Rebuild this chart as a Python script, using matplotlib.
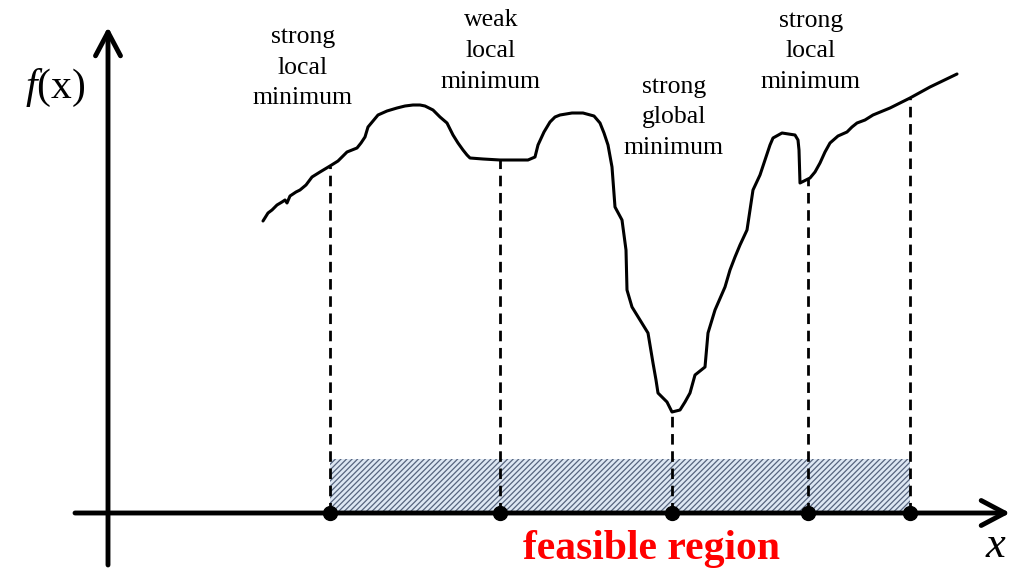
import numpy as np
import matplotlib
matplotlib.use("Agg")
import matplotlib.pyplot as plt
from matplotlib.patches import Rectangle

plt.rcParams['font.family'] = ['Liberation Serif', 'DejaVu Serif']
plt.rcParams['mathtext.fontset'] = 'custom'
plt.rcParams['mathtext.rm'] = 'Liberation Serif'
plt.rcParams['mathtext.it'] = 'Liberation Serif:italic'
plt.rcParams['hatch.linewidth'] = 0.9

# ---- data (x position, f(x) height above the x axis) ----
curve_x = [263, 268, 272, 277, 282, 285, 287, 290, 296, 300, 306, 312, 320, 330, 338, 343, 347,
           352, 357, 361, 365, 368, 373, 378, 387, 397, 405, 413, 420, 425, 433, 440, 447, 453,
           458, 463, 467, 470, 483, 500, 515, 528, 535, 538, 544, 550, 555, 560, 572, 583, 594,
           600, 604, 608, 612, 615, 622, 626, 627, 632, 640, 648, 653, 656, 658, 667, 672, 680,
           685, 690, 695, 705, 708, 715, 725, 730, 735, 740, 747, 750, 753, 760, 765, 770, 773,
           782, 795, 798, 799, 800, 810, 815, 820, 825, 830, 838, 847, 852, 857, 865, 873, 890,
           910, 930, 957]
curve_py = [221, 213, 210, 205, 202, 200, 203, 196, 192, 190, 185, 177, 172, 166, 161, 156, 152,
            150, 148, 143, 137, 127, 121, 115, 111, 108, 106, 105, 105, 106, 110, 117, 123, 135,
            143, 150, 155, 158, 159, 160, 160, 160, 157, 145, 132, 122, 117, 115, 113, 113, 116,
            123, 133, 145, 167, 207, 220, 250, 290, 307, 320, 333, 363, 380, 393, 402, 412, 410,
            402, 393, 375, 367, 333, 310, 287, 270, 257, 245, 230, 210, 190, 175, 160, 145, 138,
            133, 135, 140, 150, 183, 178, 172, 163, 152, 143, 136, 132, 127, 123, 120, 115, 108,
            98, 87, 74]
AXIS_Y = 513
curve_f = [AXIS_Y - v for v in curve_py]

minima_x = [330, 500, 672, 808, 910]
feasible_lo, feasible_hi = 330, 910
feasible_h = 54

labels = ["strong\nlocal\nminimum", "weak\nlocal\nminimum",
          "strong\nglobal\nminimum", "strong\nlocal\nminimum"]
label_x = [303, 491, 674, 811]
label_f = [AXIS_Y - 68, AXIS_Y - 51, AXIS_Y - 117, AXIS_Y - 51]

# ---- figure ----
fig = plt.figure(figsize=(10.12, 5.71), dpi=100)
ax = fig.add_axes([0, 0, 1, 1])
ax.set_xlim(0, 1012)
ax.set_ylim(AXIS_Y - 571, AXIS_Y)
ax.axis('off')

# feasible region
ax.add_patch(Rectangle((feasible_lo, 0), feasible_hi - feasible_lo, feasible_h,
                       facecolor='#dde7f3', edgecolor='#56647e', hatch='//////',
                       linewidth=0, zorder=1))

# axes arrows
ax.annotate('', xy=(1010, 0), xytext=(75, 0),
            arrowprops=dict(arrowstyle='->,head_length=0.85,head_width=0.45',
                            lw=3.5, color='black', mutation_scale=20,
                            shrinkA=0, shrinkB=0), zorder=3)
ax.annotate('', xy=(108, AXIS_Y - 27), xytext=(108, AXIS_Y - 565),
            arrowprops=dict(arrowstyle='->,head_length=0.85,head_width=0.45',
                            lw=3.5, color='black', mutation_scale=20,
                            shrinkA=0, shrinkB=0), zorder=3)

# curve
ax.plot(curve_x, curve_f, color='black', lw=2.2, solid_joinstyle='round',
        solid_capstyle='round', zorder=4)

# dashed drop lines and minima dots
tops = np.interp(minima_x, curve_x, curve_f)
for mx, top in zip(minima_x, tops):
    ax.plot([mx, mx], [0, top], color='black', lw=2.0, ls=(0, (3.8, 2.4)), zorder=2)
ax.plot(minima_x, [0] * len(minima_x), 'o', color='black', ms=10, zorder=5)

# labels
for t, lx, lf in zip(labels, label_x, label_f):
    ax.text(lx, lf, t, ha='center', va='center', fontsize=18.5, linespacing=1.5)

ax.text(55, AXIS_Y - 88, r'$\mathit{f}\mathrm{(x)}$', ha='center', va='center', fontsize=30)
ax.text(995, AXIS_Y - 546, 'x', style='italic', ha='center', va='center', fontsize=32)
ax.text(652, AXIS_Y - 549, 'feasible region', color='#ff0000', fontweight='bold',
        ha='center', va='center', fontsize=30)

fig.savefig('out.png', dpi=100)
